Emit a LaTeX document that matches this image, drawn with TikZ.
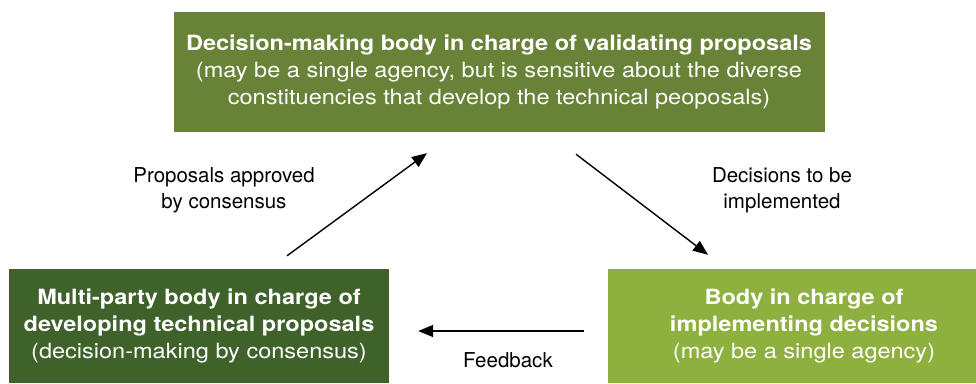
\documentclass[tikz,border=0pt]{standalone}
\usepackage{fontspec}
\setmainfont{TeX Gyre Heros}
\newfontfamily\boxfont[FakeStretch=1.12]{TeX Gyre Heros}
\usetikzlibrary{arrows.meta}
\definecolor{topgreen}{RGB}{104,131,55}
\definecolor{leftgreen}{RGB}{62,98,42}
\definecolor{rightgreen}{RGB}{141,176,62}
\begin{document}
\begin{tikzpicture}[x=1pt,y=-1pt,
        body/.style={text=white,align=center,inner sep=0pt,font=\boxfont\fontsize{21}{27}\selectfont},
        lbl/.style={align=center,font=\fontsize{20.5}{26}\selectfont},
        flow/.style={line width=1.4pt,-{Triangle[length=15pt,width=12pt]}}]
        \useasboundingbox (0,0) rectangle (976,383);
        \node[body,fill=topgreen,minimum width=651pt,minimum height=120pt] (vbody) at (499,72)
            {\textbf{Decision-making body in charge of validating proposals}\\(may be a single agency, but is sensitive about the diverse\\constituencies that develop the technical peoposals)};
        \node[body,fill=leftgreen,minimum width=380pt,minimum height=114pt] (dbody) at (199,326)
            {\textbf{Multi-party body in charge of}\\\textbf{developing technical proposals}\\(decision-making by consensus)};
        \node[body,fill=rightgreen,minimum width=392pt,minimum height=114pt] (ibody) at (804,326)
            {\textbf{Body in charge of}\\\textbf{implementing decisions}\\(may be a single agency)};
        \draw[flow] ([xshift=88pt,yshift=13pt]dbody.north) -- ([xshift=-72pt,yshift=-21pt]vbody.south);
        \draw[flow] ([xshift=77pt,yshift=-22pt]vbody.south) -- ([xshift=-96pt,yshift=14pt]ibody.north);
        \draw[flow] ([xshift=-24pt,yshift=-5pt]ibody.west) -- ([xshift=29pt,yshift=-5pt]dbody.east);
        \node[lbl] (approved) at (224,190) {Proposals approved\\by consensus};
        \node[lbl] (decisions) at (782,190) {Decisions to be\\implemented};
        \node[lbl] (feedback) at (508,360) {Feedback};
    \end{tikzpicture}
\end{document}
